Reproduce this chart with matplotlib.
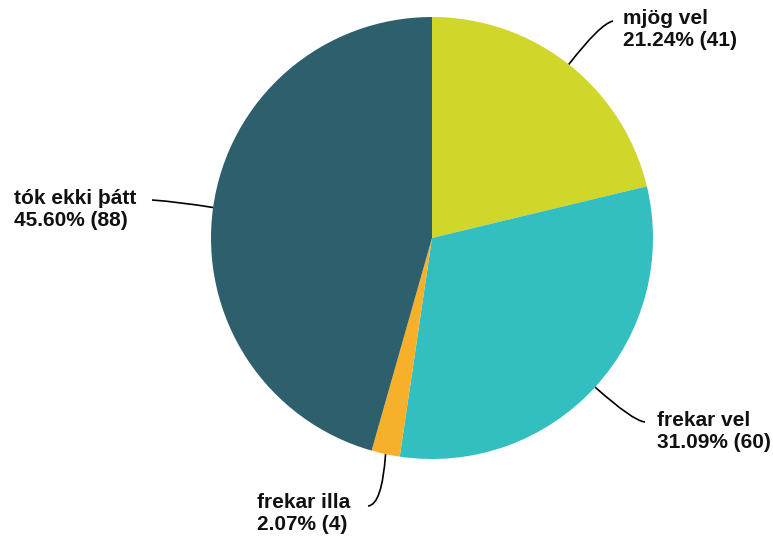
import numpy as np
import matplotlib.pyplot as plt
from matplotlib.path import Path
from matplotlib.patches import PathPatch

# svör
labels = ['mjög vel', 'frekar vel', 'frekar illa', 'tók ekki þátt']
counts = [41, 60, 4, 88]
colors = ['#d0d62a', '#33bec0', '#f7b02a', '#2e5f6c']

W, H = 773, 541
fig = plt.figure(figsize=(W / 100, H / 100), dpi=100)
ax = fig.add_axes([0, 0, 1, 1])
ax.set_aspect('equal')

cx, cy, r = 432, H - 238, 221
wedges, _ = ax.pie(counts, colors=colors, startangle=90, counterclock=False,
                   center=(cx, cy), radius=r, frame=True,
                   wedgeprops=dict(linewidth=0))
ax.set_xlim(0, W)
ax.set_ylim(0, H)
ax.axis('off')

total = sum(counts)
# (control point, end point, text pos) in pixel coords, y down
layout = [
    ((600, 24), (613, 21), (623, 18)),
    ((633, 421), (645, 422), (657, 420)),
    ((382, 505), (368, 506), (257, 502)),
    ((180, 202), (152, 200), (14, 198)),
]

for w, n, lab, (ctrl, end, tpos) in zip(wedges, counts, labels, layout):
    mid = np.deg2rad((w.theta1 + w.theta2) / 2)
    sx, sy = cx + r * np.cos(mid), cy + r * np.sin(mid)
    verts = [(sx, sy), (ctrl[0], H - ctrl[1]), (end[0], H - end[1])]
    p = Path(verts, [Path.MOVETO, Path.CURVE3, Path.CURVE3])
    ax.add_patch(PathPatch(p, fc='none', ec='black', lw=1.2))
    pct = n / total * 100
    ax.text(tpos[0], H - tpos[1] - 12, f'{lab}\n{pct:.2f}% ({n})',
            ha='left', va='center', fontsize=15, fontweight='bold',
            family='Liberation Sans', color='#111111', linespacing=1.2)

fig.savefig('out.png', dpi=100)
